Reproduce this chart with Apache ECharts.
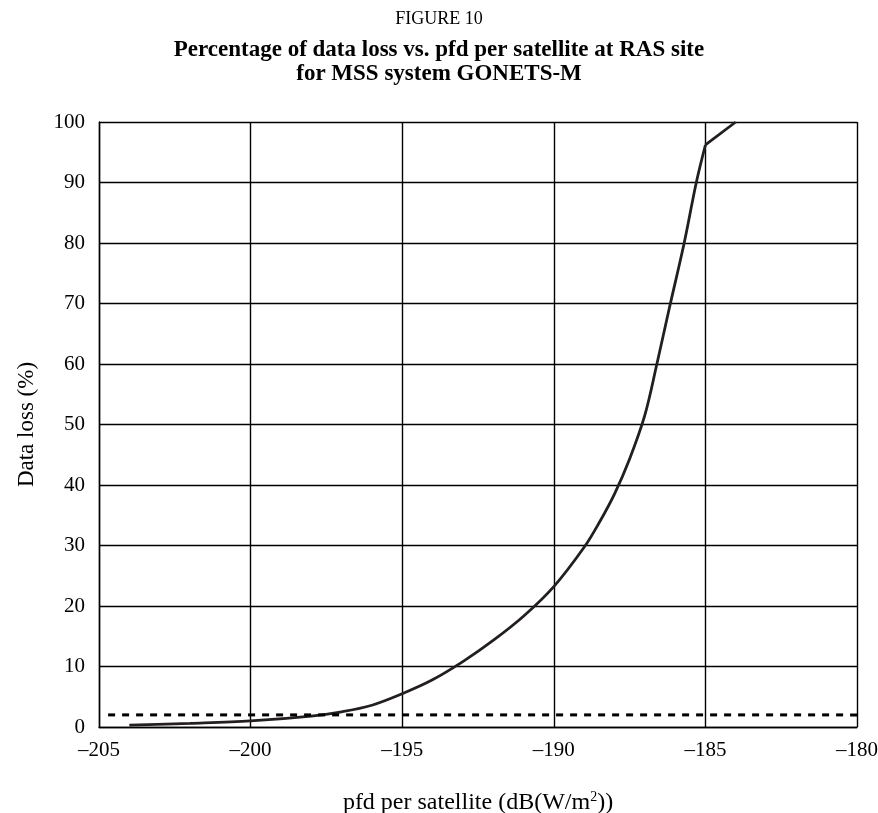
<!DOCTYPE html>
<html>
<head>
<meta charset="utf-8">
<script src="https://cdn.jsdelivr.net/npm/echarts@6/dist/echarts.min.js"></script>
<style>
html,body{margin:0;padding:0;background:#fff;}
#c{width:878px;height:813px;}
</style>
</head>
<body>
<div id="c"></div>
<script>
// Data
const pfd = [-204, -202, -200, -198, -197, -196, -195, -194, -193, -192, -191, -190, -189, -188.5, -188, -187.5, -187, -186.6, -186.2, -185.7, -185.3, -185, -184];
const dataLoss = [0.3, 0.6, 1.0, 1.8, 2.5, 3.6, 5.5, 7.8, 10.8, 14.3, 18.3, 23.2, 29.7, 33.8, 38.5, 44.3, 51.5, 60, 69, 80, 90, 96.2, 100];
const thresholdX = [-204.7, -180];
const thresholdY = [2, 2];
const xTicks = [-205, -200, -195, -190, -185, -180];
const yTicks = [0, 10, 20, 30, 40, 50, 60, 70, 80, 90, 100];

const serif = '"Liberation Serif", "DejaVu Serif", serif';
const pts = pfd.map((x, i) => [x, dataLoss[i]]);
const kink = pfd.indexOf(-185);

const chart = echarts.init(document.getElementById('c'), null, {renderer: 'canvas'});
chart.setOption({
  backgroundColor: '#fff',
  animation: false,
  title: [
    {text: 'FIGURE 10', left: 'center', top: 5,
     textStyle: {fontFamily: serif, fontSize: 18, fontWeight: 'normal', color: '#000'}},
    {text: 'Percentage of data loss vs. pfd per satellite at RAS site\nfor MSS system GONETS-M', left: 'center', top: 33,
     textStyle: {fontFamily: serif, fontSize: 23, fontWeight: 'bold', color: '#000', lineHeight: 24}}
  ],
  grid: {left: 99, right: 21, top: 122, bottom: 86, containLabel: false, outerBoundsMode: 'none'},
  xAxis: {
    type: 'value', min: xTicks[0], max: xTicks[xTicks.length - 1], interval: 5,
    axisLine: {show: true, lineStyle: {color: '#000', width: 1.4}},
    axisTick: {show: false},
    splitLine: {show: true, lineStyle: {color: '#000', width: 1.4}},
    axisLabel: {fontFamily: serif, fontSize: 21, color: '#000', margin: 13,
      formatter: v => String(v).replace('-', '\u2013')},
    name: 'pfd per satellite (dB(W/m{sup|2}))',
    nameLocation: 'middle', nameGap: 63,
    nameTextStyle: {fontFamily: serif, fontSize: 24, color: '#000',
      rich: {sup: {fontFamily: serif, fontSize: 14, color: '#000', verticalAlign: 'top', padding: [0,0,11,0]}}}
  },
  yAxis: {
    type: 'value', min: 0, max: 100, interval: 10,
    axisLine: {show: true, lineStyle: {color: '#000', width: 1.4}},
    axisTick: {show: false},
    splitLine: {show: true, lineStyle: {color: '#000', width: 1.4}},
    axisLabel: {fontFamily: serif, fontSize: 21, color: '#000', margin: 14},
    name: 'Data loss (%)', nameLocation: 'middle', nameGap: 61, nameRotate: 90,
    nameTextStyle: {fontFamily: serif, fontSize: 23, color: '#000'}
  },
  series: [
    {type: 'line', data: pts.slice(0, kink + 1), showSymbol: false, smooth: 0.35,
     lineStyle: {color: '#231f20', width: 2.8}},
    {type: 'line', data: pts.slice(kink), showSymbol: false,
     lineStyle: {color: '#231f20', width: 2.8}},
    {type: 'line', data: thresholdX.map((x, i) => [x, thresholdY[i]]), showSymbol: false,
     lineStyle: {color: '#000', width: 3, type: [7, 7]}}
  ]
});
</script>
</body>
</html>
